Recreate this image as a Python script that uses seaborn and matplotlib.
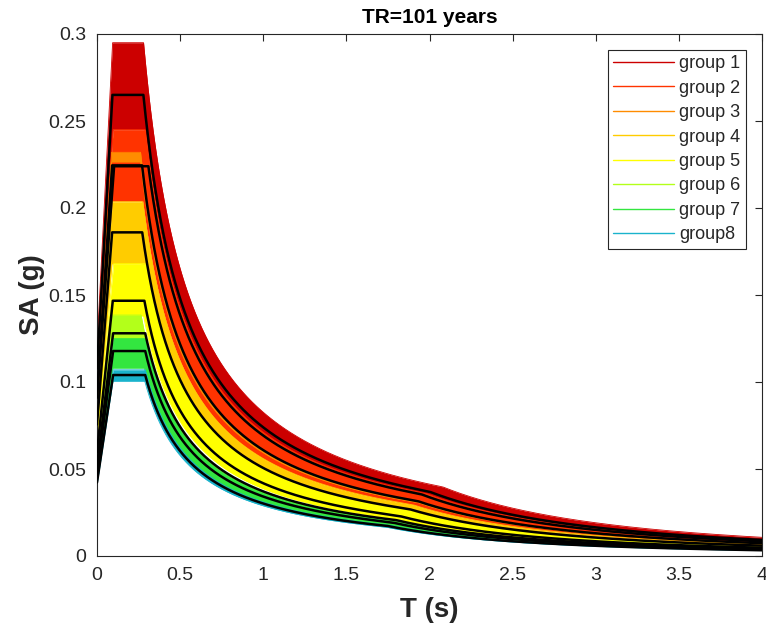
import numpy as np
import pandas as pd
import matplotlib
matplotlib.use("Agg")
import matplotlib.pyplot as plt
import seaborn as sns
from matplotlib.lines import Line2D

# ---------------- data ----------------
groups = ["group 1", "group 2", "group 3", "group 4",
          "group 5", "group 6", "group 7", "group8"]
group_colors = ["#CC0000", "#FF3300", "#FF8C00", "#FFCC00",
                "#FFFF00", "#B3FF1A", "#33E640", "#1AB3CC"]

# code-type spectrum parameters: plateau SA (g), corner periods TC, TD (s)
band_top_sa = [0.295, 0.245, 0.232, 0.2036, 0.168, 0.1385, 0.125, 0.107]
band_top_tc = [0.280, 0.290, 0.262, 0.275, 0.300, 0.265, 0.290, 0.290]
band_top_td = [2.08, 1.98, 1.95, 1.90, 1.85, 1.80, 1.78, 1.76]
band_bot_sa = [0.245, 0.204, 0.2265, 0.168, 0.138, 0.125, 0.108, 0.1005]
band_bot_tc = [0.289, 0.275, 0.262, 0.270, 0.280, 0.270, 0.285, 0.287]
band_bot_td = [1.98, 1.90, 1.93, 1.85, 1.80, 1.78, 1.75, 1.74]

mean_sa = [0.265, 0.224, 0.2245, 0.186, 0.1467, 0.128, 0.1178, 0.104]
mean_tc = [0.279, 0.309, 0.271, 0.272, 0.285, 0.290, 0.290, 0.290]
mean_td = [2.00, 1.95, 1.93, 1.88, 1.82, 1.80, 1.78, 1.75]

amplification_f0 = 2.46          # plateau / PGA ratio
title_text = "TR=101 years"
x_ticks = [0, 0.5, 1, 1.5, 2, 2.5, 3, 3.5, 4]
y_ticks = [0, 0.05, 0.1, 0.15, 0.2, 0.25, 0.3]
y_tick_labels = ["0", "0.05", "0.1", "0.15", "0.2", "0.25", "0.3"]

# ---------------- spectrum shape ----------------
periods = np.linspace(0, 4, 4001)


def spectrum(T, sa_plateau, tc, td, f0=amplification_f0):
    tb = tc / 3.0
    s0 = sa_plateau / f0
    out = np.empty_like(T)
    m1 = T < tb
    m2 = (T >= tb) & (T < tc)
    m3 = (T >= tc) & (T < td)
    m4 = T >= td
    out[m1] = s0 + (sa_plateau - s0) * T[m1] / tb
    out[m2] = sa_plateau
    out[m3] = sa_plateau * tc / T[m3]
    out[m4] = sa_plateau * tc * td / T[m4] ** 2
    return out


# ---------------- figure ----------------
sns.set_theme(style="white")
plt.rcParams["font.family"] = ["Liberation Sans", "DejaVu Sans"]

fig = plt.figure(figsize=(7.66, 6.31), dpi=100)
ax = fig.add_axes([97 / 766, (631 - 556) / 631, (762 - 97) / 766, (556 - 34) / 631])

for i, g in enumerate(groups):
    top = spectrum(periods, band_top_sa[i], band_top_tc[i], band_top_td[i])
    bot = spectrum(periods, band_bot_sa[i], band_bot_tc[i], band_bot_td[i])
    ax.fill_between(periods, bot, top, color=group_colors[i], lw=0, zorder=2 + i * 0.01)
    ax.plot(periods, top, color=group_colors[i], lw=0.6, zorder=2 + i * 0.01)
    ax.plot(periods, bot, color=group_colors[i], lw=0.6, zorder=2 + i * 0.01)

rows = []
for i, g in enumerate(groups):
    sa = spectrum(periods, mean_sa[i], mean_tc[i], mean_td[i])
    rows.append(pd.DataFrame({"T": periods, "SA": sa, "group": g}))
means_df = pd.concat(rows, ignore_index=True)

sns.lineplot(data=means_df, x="T", y="SA", units="group", estimator=None,
             color="black", lw=1.8, ax=ax, zorder=5, legend=False)

ax.set_xlim(0, 4)
ax.set_ylim(0, 0.3)
ax.set_xticks(x_ticks)
ax.set_xticklabels([f"{t:g}" for t in x_ticks])
ax.set_yticks(y_ticks)
ax.set_yticklabels(y_tick_labels)

axis_col = "#262626"
for s in ax.spines.values():
    s.set_visible(True)
    s.set_color(axis_col)
    s.set_linewidth(0.8)
ax.tick_params(direction="in", length=5, width=0.8, top=True, right=True,
               colors=axis_col, labelsize=14, pad=8)

ax.set_title(title_text, fontsize=15, fontweight="bold", color="black", pad=8)
ax.set_xlabel("T (s)", fontsize=20, fontweight="bold", color=axis_col, labelpad=9)
ax.set_ylabel("SA (g)", fontsize=20, fontweight="bold", color=axis_col, labelpad=2)

handles = [Line2D([0], [0], color=c, lw=1.0) for c in group_colors]
leg = ax.legend(handles, groups, loc="upper right", fontsize=13,
                frameon=True, fancybox=False, framealpha=1, edgecolor=axis_col,
                handlelength=3.36, handletextpad=0.3, labelspacing=0.41,
                borderpad=0.3, borderaxespad=0,
                bbox_to_anchor=(1 - 16 / 665, 1 - 16 / 522))
leg.get_frame().set_linewidth(0.8)
for t in leg.get_texts():
    t.set_color(axis_col)
leg.set_zorder(10)

fig.savefig("out.png", dpi=100)
